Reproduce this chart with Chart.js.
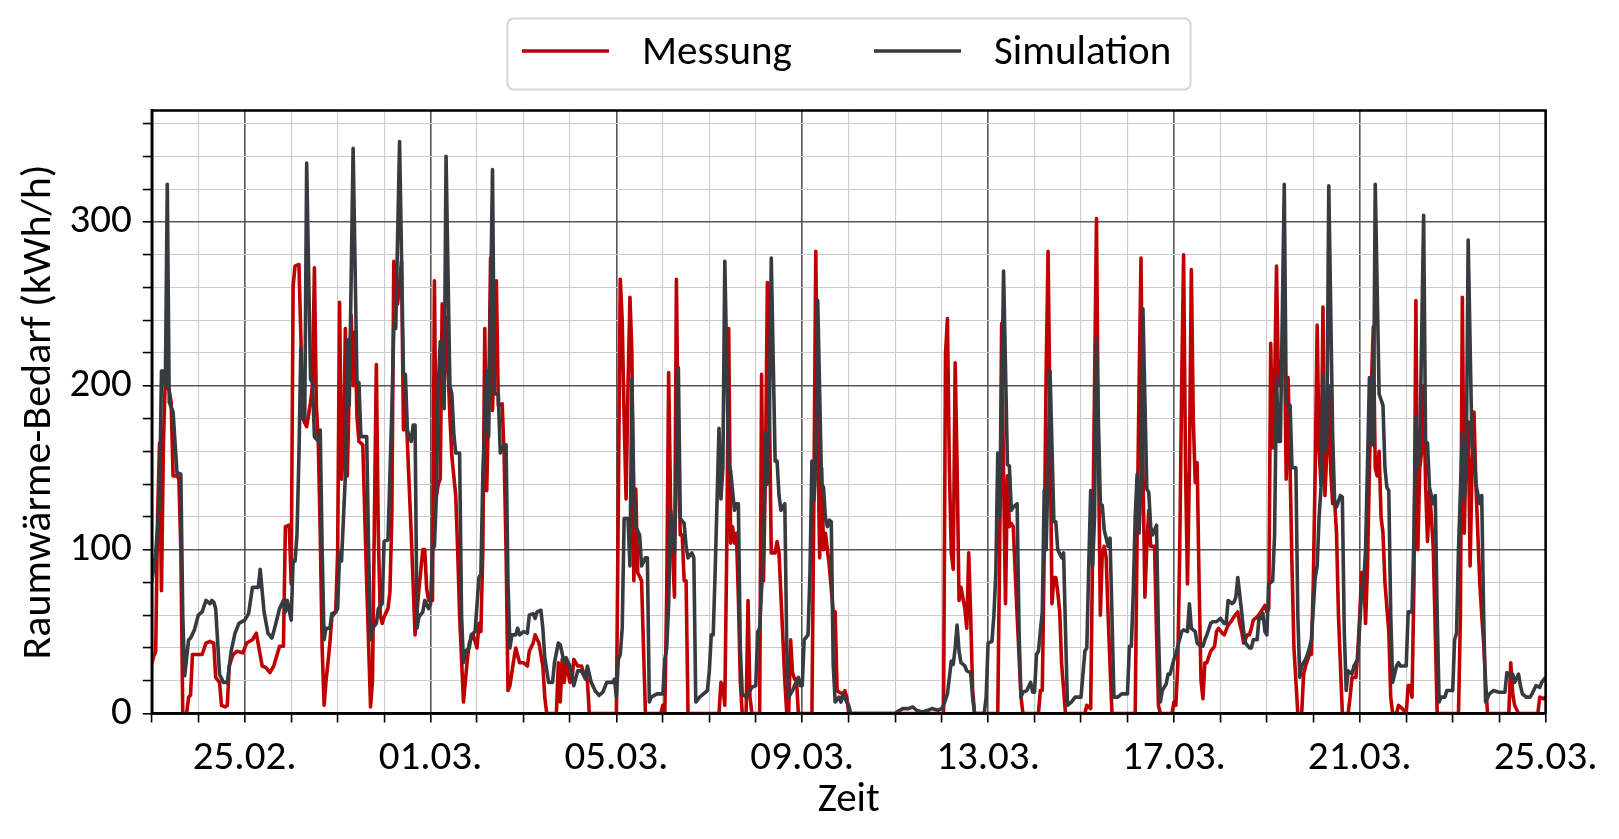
<!DOCTYPE html>
<html lang="de">
<head>
<meta charset="utf-8">
<title>Raumwärme-Bedarf</title>
<script src="https://cdn.jsdelivr.net/npm/chart.js@4.4.1/dist/chart.umd.min.js"></script>
<style>
    html, body { margin: 0; padding: 0; background: #fff; }
    #wrap { width: 1619px; height: 839px; position: relative; }
</style>
</head>
<body>
<div id="wrap"><canvas id="grafik"></canvas></div>
<script>
// --- DATEN ---
// [Stunde seit 23.02. 00:00, kWh/h]
const messung = [
    [0, 30], [1, 35], [2, 38], [3, 120], [4, 165], [5, 75], [6, 165], [7, 206], [8, 200], [9, 197], [10, 190], [11, 145], [13, 145], [14, 143], [15, 100], [16, 0], [18, 0], [19, 10], [20, 11], [21, 36], [24, 36], [26, 36], [28, 43], [30, 44], [32, 43], [33, 22], [35, 19], [36, 5], [38, 4], [39, 5], [40, 29], [42, 36], [44, 38], [47, 37], [49, 43], [52, 45], [54, 49], [57, 29], [59, 28], [61, 25], [63, 29], [66, 41], [68, 41], [69, 114], [71, 115], [72, 79],
    [73, 261], [74, 273], [76, 274], [77, 230], [78, 180], [80, 175], [82, 190], [83, 200], [84, 272], [85, 188], [86, 166], [87, 110], [88, 40], [89, 5], [90, 20], [91, 31], [92, 43], [93, 59], [95, 62], [96, 98], [97, 251], [98, 143], [99, 160], [100, 235], [101, 145], [102, 200], [103, 243], [104, 200], [105, 233], [106, 181], [107, 166], [109, 164], [111, 80], [113, 4], [114, 20], [115, 120], [116, 213], [117, 110], [118, 60], [119, 55], [120, 59], [122, 64], [123, 74], [124, 121], [125, 276], [127, 250], [129, 276], [130, 173], [131, 197], [132, 166], [134, 110], [136, 48], [138, 76], [140, 100], [141, 100], [142, 76], [143, 69], [145, 69],
    [146, 264], [147, 133], [148, 140], [149, 143], [150, 250], [151, 200], [152, 242], [154, 181], [155, 157], [157, 133], [158, 100], [159, 60], [161, 7], [162, 20], [163, 33], [164, 43], [166, 48], [168, 40], [169, 55], [170, 50], [171, 100], [172, 235], [173, 136], [174, 190], [175, 278], [176, 185], [178, 264], [179, 188], [181, 189], [182, 157], [183, 100], [184, 14], [185, 17], [187, 33], [188, 40], [190, 31], [192, 31], [194, 29], [195, 38], [197, 43], [198, 48], [200, 43], [202, 29], [203, 10], [204, 0], [209, 0], [210, 31], [211, 7], [212, 33], [213, 19], [214, 31], [216, 19],
    [217, 20], [218, 33], [220, 29], [222, 29], [223, 25], [224, 24], [225, 20], [226, 0], [240, 0], [241, 130], [242, 265], [243, 240], [244, 180], [245, 131], [246, 200], [247, 254], [248, 220], [249, 81], [250, 137], [251, 86], [253, 81], [254, 40], [255, 0], [263, 0], [264, 5], [265, 0], [266, 74], [267, 208], [268, 126], [269, 100], [270, 71], [271, 265], [272, 157], [273, 109], [274, 109], [275, 81], [276, 81], [277, 0],
    [293, 0], [294, 19], [295, 17], [296, 5], [297, 100], [298, 235], [299, 104], [300, 114], [301, 104], [302, 110], [303, 71], [304, 20], [305, 0], [307, 0], [308, 69], [309, 10], [310, 0], [314, 0], [315, 207], [316, 81], [317, 150], [318, 263], [319, 190], [320, 98], [322, 98], [323, 105], [324, 98], [327, 20], [328, 0], [329, 0], [330, 45], [331, 25], [332, 21], [333, 21], [334, 0], [341, 0], [342, 130], [343, 282], [344, 170], [345, 95], [346, 150], [347, 100], [348, 110], [350, 90], [352, 62], [353, 62], [354, 14], [355, 13], [357, 12], [358, 14], [359, 10], [360, 0],
    [409, 0], [410, 219], [411, 241], [412, 150], [413, 98], [414, 88], [415, 214], [416, 150], [417, 69], [418, 77], [420, 64], [421, 52], [422, 98], [423, 60], [424, 15], [425, 0],
    [437, 0], [438, 102], [439, 238], [440, 145], [441, 67], [442, 145], [443, 114], [444, 116], [445, 114], [447, 60], [449, 10], [450, 0], [458, 0], [459, 14], [460, 14], [461, 98], [462, 209], [463, 282], [464, 180], [465, 67], [466, 83], [467, 83], [468, 74], [469, 62], [470, 30], [472, 0], [482, 0], [483, 5], [485, 3], [486, 100], [487, 200], [488, 302], [489, 160], [490, 60], [491, 98], [492, 102], [493, 95], [494, 60], [496, 0],
    [508, 0], [509, 110], [510, 200], [511, 278], [512, 150], [513, 71], [514, 102], [515, 124], [516, 102], [518, 102], [519, 50], [520, 5], [521, 0], [527, 0], [528, 7], [529, 5], [530, 30], [531, 100], [532, 200], [533, 280], [534, 150], [535, 79], [536, 150], [537, 271], [538, 180], [539, 141], [540, 153], [541, 80], [542, 20], [543, 9], [544, 31], [545, 31], [547, 38], [549, 41], [550, 50], [551, 52], [553, 49], [554, 48], [555, 51], [556, 54], [558, 57], [559, 59], [561, 62], [562, 55], [563, 50], [564, 43], [566, 48], [567, 48], [568, 52], [569, 57], [571, 59], [573, 62], [574, 64], [575, 66], [576, 62],
    [577, 64], [578, 226], [579, 162], [580, 200], [581, 273], [582, 200], [583, 215], [584, 210], [585, 238], [586, 143], [587, 205], [588, 150], [589, 90], [590, 40], [592, 0], [594, 0], [595, 24], [596, 29], [598, 36], [599, 36], [600, 80], [601, 150], [602, 237], [603, 160], [604, 140], [605, 248], [606, 133], [607, 160], [608, 200], [609, 148], [610, 128], [611, 130], [612, 110], [613, 60], [615, 0], [618, 0], [619, 10], [620, 22], [622, 22], [623, 38], [624, 60], [625, 86], [626, 86], [627, 55], [628, 90], [629, 150], [630, 200], [631, 236], [632, 150], [633, 145], [634, 160], [635, 120], [636, 110], [637, 80], [639, 50], [640, 10], [641, 0], [643, 0], [644, 5], [646, 3],
    [648, 0], [649, 17], [650, 17], [651, 10], [652, 80], [653, 252], [654, 100], [655, 150], [656, 160], [657, 200], [658, 140], [659, 105], [660, 136], [661, 120], [662, 100], [663, 50], [664, 0], [675, 0], [676, 60], [677, 254], [678, 110], [679, 170], [680, 178], [681, 90], [682, 150], [683, 184], [684, 140], [685, 109], [686, 80], [687, 60], [688, 43], [689, 20], [690, 0], [701, 0], [702, 31], [703, 12], [704, 5], [706, 0], [716, 0], [717, 10], [719, 9], [720, 10]
];

const simulation = [
    [0, 80], [2, 98], [4, 130], [5, 209], [6, 209], [7, 200], [8, 323], [9, 190], [11, 184], [13, 147], [15, 146], [16, 60], [17, 23], [19, 45], [20, 46], [22, 51], [24, 60], [26, 62], [28, 69], [30, 67], [31, 69], [32, 68], [33, 64], [35, 24], [37, 19], [39, 19], [41, 38], [43, 49], [45, 55], [48, 57], [50, 61], [52, 77], [55, 77], [56, 88], [58, 62], [60, 49], [62, 46], [63, 50], [66, 64], [68, 69], [69, 62], [70, 69], [72, 57],
    [73, 93], [74, 93], [75, 109], [76, 157], [77, 223], [78, 180], [79, 180], [80, 336], [82, 204], [83, 202], [84, 169], [86, 166], [87, 173], [88, 100], [89, 45], [90, 52], [92, 52], [93, 61], [95, 62], [96, 64], [97, 98], [98, 93], [100, 145], [101, 228], [102, 188], [104, 345], [106, 202], [107, 202], [108, 169], [111, 169], [112, 100], [113, 45], [114, 52], [116, 55], [117, 64], [119, 67], [120, 105], [122, 106], [123, 145], [124, 185], [125, 235], [126, 235], [128, 349], [130, 207], [131, 207], [132, 173], [134, 166], [135, 176], [136, 176], [137, 52], [138, 59], [140, 62], [141, 69], [143, 64], [144, 67],
    [145, 100], [146, 102], [147, 133], [148, 200], [149, 227], [150, 227], [151, 186], [152, 340], [154, 200], [155, 195], [156, 171], [157, 159], [159, 159], [160, 60], [161, 31], [162, 38], [164, 40], [165, 48], [167, 50], [169, 83], [170, 85], [171, 145], [173, 209], [174, 169], [176, 332], [177, 195], [179, 195], [180, 159], [182, 164], [183, 164], [184, 80], [185, 40], [186, 48], [188, 48], [189, 52], [190, 48], [192, 50], [194, 49], [195, 60], [197, 61], [198, 58], [199, 62], [201, 63], [202, 52], [203, 34], [205, 19], [207, 19], [208, 31], [210, 43], [211, 42], [213, 31], [214, 34], [216, 29], [217, 24],
    [218, 17], [220, 26], [222, 26], [224, 21], [225, 29], [227, 19], [229, 14], [231, 11], [233, 13], [235, 19], [238, 19], [239, 21], [240, 10], [241, 33], [242, 36], [243, 52], [244, 119], [246, 119], [247, 90], [248, 204], [249, 136], [250, 114], [252, 109], [253, 90], [255, 95], [256, 95], [257, 7], [258, 10], [261, 12], [264, 12], [265, 33], [266, 40], [267, 67], [268, 124], [270, 98], [271, 150], [272, 211], [273, 119], [275, 116], [276, 102], [277, 95], [279, 98], [280, 95], [281, 7], [283, 10], [285, 12], [287, 14], [288, 26], [289, 48],
    [290, 48], [291, 86], [292, 130], [293, 174], [294, 131], [295, 150], [296, 276], [298, 152], [299, 148], [301, 124], [302, 128], [303, 128], [304, 40], [305, 12], [307, 10], [309, 14], [310, 16], [312, 17], [313, 50], [314, 52], [316, 100], [317, 171], [318, 140], [319, 180], [320, 278], [322, 154], [323, 154], [324, 133], [325, 124], [327, 128], [328, 40], [329, 10], [331, 14], [332, 17], [334, 22], [335, 17], [336, 17], [337, 45], [339, 48], [340, 86], [341, 154], [342, 130], [343, 150], [344, 252], [346, 140], [347, 138], [348, 119], [349, 114], [350, 118], [351, 117], [352, 30], [353, 7], [355, 10], [356, 7], [357, 12], [359, 7], [360, 5], [361, 0],
    [384, 0], [385, 1], [388, 3], [391, 3], [393, 4], [395, 2], [398, 1], [401, 2], [403, 3], [406, 2], [408, 3], [409, 5], [411, 12], [412, 22], [413, 32], [414, 30], [415, 40], [416, 54], [417, 38], [418, 31], [420, 29], [421, 26], [423, 25], [424, 10], [425, 0], [430, 0], [431, 10], [432, 43],
    [434, 44], [435, 60], [436, 86], [437, 159], [438, 120], [439, 190], [440, 270], [442, 152], [443, 151], [444, 124], [445, 126], [447, 128], [448, 50], [449, 10], [450, 13], [452, 14], [454, 19], [455, 13], [456, 13], [457, 36], [458, 38], [460, 62], [461, 136], [462, 100], [463, 150], [464, 209], [466, 117], [467, 117], [468, 100], [470, 95], [471, 98], [472, 50], [473, 5], [475, 7], [477, 10], [480, 10], [482, 38], [483, 40], [484, 90], [485, 136], [486, 90], [487, 120], [488, 229], [490, 128], [491, 127], [492, 112], [493, 107], [494, 102], [495, 107], [496, 60], [497, 10], [499, 10], [501, 12], [503, 12],
    [504, 12], [505, 41], [506, 41], [507, 74], [508, 120], [509, 146], [510, 110], [511, 140], [512, 247], [514, 137], [515, 135], [516, 114], [517, 109], [519, 115], [520, 50], [521, 7], [522, 14], [524, 18], [525, 24], [526, 24], [528, 33], [529, 36], [530, 41], [532, 50], [533, 51], [535, 50], [536, 67], [537, 52], [539, 50], [540, 43], [542, 41], [543, 41], [544, 45], [545, 48], [547, 55], [548, 56], [550, 56], [551, 57], [552, 58], [554, 55], [555, 55], [556, 69], [558, 67], [559, 68], [560, 71], [561, 83], [563, 62], [564, 50], [565, 43], [567, 40], [568, 40], [569, 45], [571, 45], [572, 59], [573, 58], [574, 61], [575, 50], [576, 48],
    [577, 79], [579, 81], [580, 109], [581, 205], [582, 166], [583, 166], [585, 323], [586, 190], [588, 188], [589, 150], [591, 150], [592, 60], [593, 22], [594, 29], [596, 33], [597, 36], [598, 40], [599, 45], [601, 83], [602, 90], [603, 120], [604, 138], [605, 207], [606, 160], [607, 166], [608, 322], [610, 170], [611, 130], [612, 126], [614, 133], [615, 132], [616, 50], [617, 14], [618, 26], [620, 24], [621, 29], [623, 33], [625, 76], [626, 79], [627, 100], [629, 205], [630, 165], [631, 164], [632, 323], [634, 195], [636, 188], [637, 150], [638, 138], [639, 136], [640, 60], [641, 19], [643, 29], [644, 31], [645, 29], [647, 29],
    [648, 29], [649, 62], [651, 62], [652, 110], [653, 181], [654, 150], [655, 160], [657, 304], [658, 166], [659, 165], [660, 138], [662, 128], [663, 133], [664, 60], [665, 7], [666, 10], [668, 10], [669, 14], [672, 14], [673, 45], [674, 49], [675, 100], [677, 171], [678, 130], [679, 150], [680, 289], [682, 162], [683, 162], [684, 140], [686, 128], [687, 133], [688, 60], [689, 7], [691, 12], [693, 14], [696, 13], [699, 13], [700, 25], [702, 22], [703, 24], [704, 19], [706, 24], [707, 17], [708, 12], [710, 10], [712, 10], [713, 12], [715, 17], [717, 16], [718, 19], [720, 22]
];

// Beschriftete Tage (Tage seit 23.02.) und ihre Texte
const xTickTage = [2, 6, 10, 14, 18, 22, 26, 30];
const xTickLabels = ['25.02.', '01.03.', '05.03.', '09.03.', '13.03.', '17.03.', '21.03.', '25.03.'];
const yTickWerte = [0, 100, 200, 300];

// --- STIL ---
const SCHRIFT = 'Carlito, Calibri, Lato, sans-serif';
const GROESSE = 41;
const ROT = '#c00000';
const GRAU = '#363b41';
const GITTER_HAUPT = '#555555';
const GITTER_NEBEN = '#cccccc';
const LINIE = 3.6;

function istHauptX(stunde) {
    const tag = stunde / 24;
    return xTickTage.includes(Math.round(tag)) && Math.abs(tag - Math.round(tag)) < 1e-6;
}

function istHauptY(wert) {
    return yTickWerte.includes(wert);
}

// Legende mit Rahmen oben in der Mitte
const legendePlugin = {
    id: 'legendeRahmen',
    afterDraw(chart) {
        const ctx = chart.ctx;
        ctx.save();
        ctx.beginPath();
        ctx.roundRect(507.5, 18.5, 683, 71, 6);
        ctx.fillStyle = 'rgba(255,255,255,0.8)';
        ctx.fill();
        ctx.strokeStyle = '#d5d5d5';
        ctx.lineWidth = 2;
        ctx.stroke();

        const eintraege = [
            { x: 522, textX: 642 },
            { x: 874, textX: 994 }
        ];
        chart.data.datasets.forEach((ds, i) => {
            const e = eintraege[i];
            ctx.beginPath();
            ctx.moveTo(e.x, 51);
            ctx.lineTo(e.x + 87, 51);
            ctx.strokeStyle = ds.borderColor;
            ctx.lineWidth = LINIE;
            ctx.stroke();
            ctx.fillStyle = '#000';
            ctx.font = `${GROESSE}px ${SCHRIFT}`;
            ctx.textBaseline = 'middle';
            ctx.textAlign = 'left';
            ctx.fillText(ds.label, e.textX, 54);
        });
        ctx.restore();
    }
};

// Achsenrahmen über den Linien
const rahmenPlugin = {
    id: 'achsenRahmen',
    afterDatasetsDraw(chart) {
        const { ctx, chartArea: a } = chart;
        ctx.save();
        ctx.strokeStyle = '#000';
        ctx.lineWidth = 2.5;
        ctx.strokeRect(a.left, a.top, a.right - a.left, a.bottom - a.top);
        ctx.restore();
    }
};

const grafik = new Chart(document.getElementById('grafik'), {
    type: 'line',
    data: {
        datasets: [
            {
                label: 'Messung',
                data: messung,
                borderColor: ROT,
                borderWidth: LINIE,
                pointRadius: 0,
                tension: 0,
                borderJoinStyle: 'round',
                order: 1
            },
            {
                label: 'Simulation',
                data: simulation,
                borderColor: GRAU,
                borderWidth: LINIE,
                pointRadius: 0,
                tension: 0,
                borderJoinStyle: 'round',
                order: 0
            }
        ]
    },
    options: {
        responsive: true,
        maintainAspectRatio: false,
        animation: false,
        layout: { padding: { top: 110.5, right: 73.4, left: 0, bottom: 0 } },
        plugins: {
            legend: { display: false },
            tooltip: { enabled: false }
        },
        scales: {
            x: {
                type: 'linear',
                min: 0,
                max: 720,
                afterFit: s => { s.height = 125.5; },
                border: { display: true, color: '#000', width: 2.5 },
                grid: {
                    color: c => istHauptX(c.tick.value) ? GITTER_HAUPT : GITTER_NEBEN,
                    lineWidth: c => istHauptX(c.tick.value) ? 1.6 : 1.1,
                    tickColor: '#000',
                    tickLength: 9,
                    tickWidth: 1.6
                },
                ticks: {
                    stepSize: 24,
                    autoSkip: false,
                    maxRotation: 0,
                    includeBounds: false,
                    padding: 12,
                    color: '#000',
                    font: { family: SCHRIFT, size: GROESSE },
                    callback: v => {
                        const i = xTickTage.indexOf(v / 24);
                        return i >= 0 ? xTickLabels[i] : '';
                    }
                },
                title: {
                    display: true,
                    text: 'Zeit',
                    color: '#000',
                    font: { family: SCHRIFT, size: GROESSE },
                    padding: { top: 0, bottom: 14 }
                }
            },
            y: {
                min: 0,
                max: 368,
                afterFit: s => { s.width = 151.8; },
                border: { display: true, color: '#000', width: 2.5 },
                grid: {
                    color: c => istHauptY(c.tick.value) ? GITTER_HAUPT : GITTER_NEBEN,
                    lineWidth: c => istHauptY(c.tick.value) ? 1.6 : 1.1,
                    tickColor: '#000',
                    tickLength: 9,
                    tickWidth: 1.6
                },
                ticks: {
                    stepSize: 20,
                    autoSkip: false,
                    includeBounds: false,
                    padding: 11,
                    color: '#000',
                    font: { family: SCHRIFT, size: GROESSE },
                    callback: v => istHauptY(v) ? String(v) : ''
                },
                title: {
                    display: true,
                    text: 'Raumwärme-Bedarf (kWh/h)',
                    color: '#000',
                    font: { family: SCHRIFT, size: 42 },
                    padding: { top: 14, bottom: 0 }
                }
            }
        }
    },
    plugins: [legendePlugin, rahmenPlugin]
});
</script>
</body>
</html>
